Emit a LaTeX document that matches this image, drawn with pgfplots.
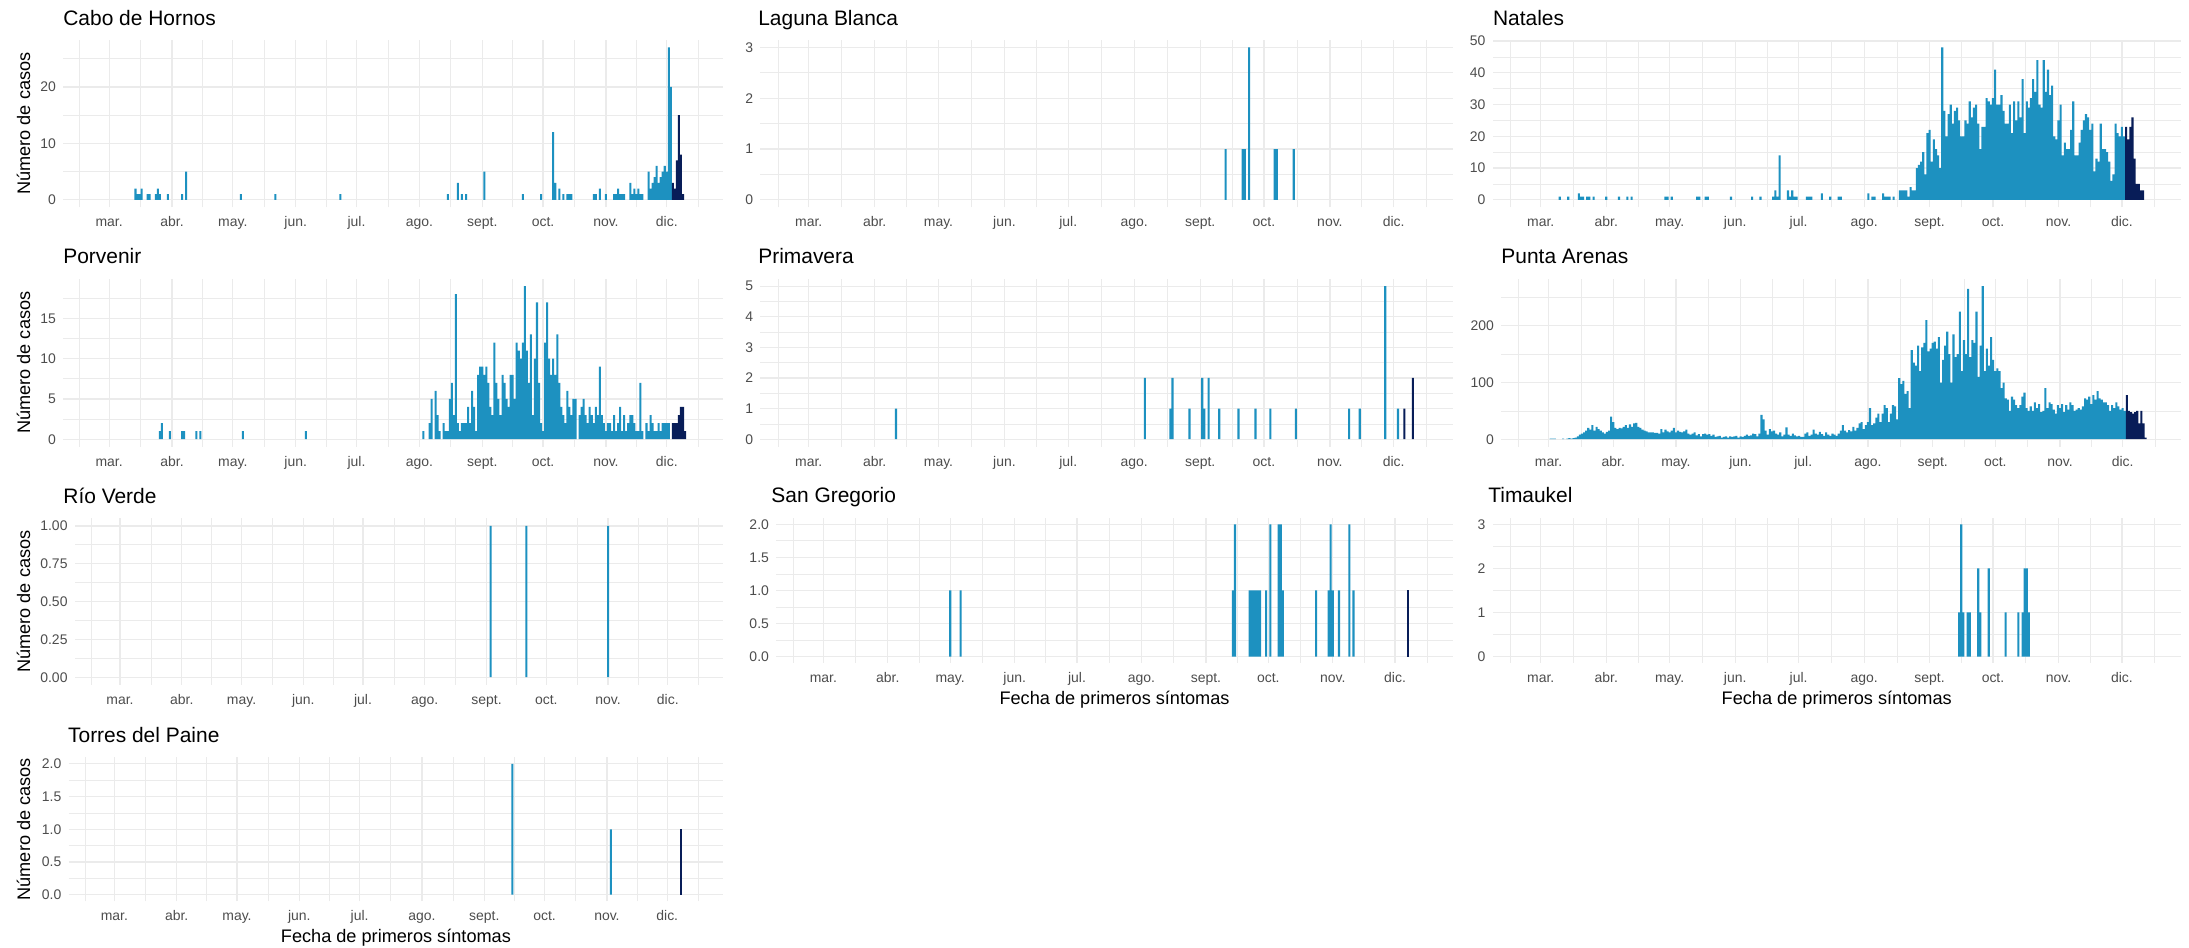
\documentclass[border=0pt]{standalone}
\usepackage{fontspec}
\setmainfont{Liberation Sans}
\usepackage{pgfplots}
\pgfplotsset{compat=1.18}

\definecolor{cblue}{HTML}{1D91C0}
\definecolor{cnavy}{HTML}{081D58}
\definecolor{gridc}{HTML}{EBEBEB}
\definecolor{tickc}{HTML}{4D4D4D}

\pgfplotsset{
  every axis title/.style={at={(rel axis cs:0,1)}, anchor=base west, yshift=10.5pt,
    inner sep=0pt, font=\fontsize{15}{18}\selectfont, text=black},
  every axis x label/.style={at={(rel axis cs:0.5,0)}, anchor=base, yshift=-29.5pt,
    font=\fontsize{13}{15}\selectfont},
  ylab/.style={ylabel={Número de casos},
    every axis y label/.style={at={(rel axis cs:0,0.5)}, xshift=#1, rotate=90,
      anchor=center, font=\fontsize{13}{15}\selectfont}},
  panel/.style={
    scale only axis, anchor=north west,
    xmin=-22.7, xmax=302.8,
    axis line style={draw=none}, tick style={draw=none},
    xtick={0,31,61,92,122,153,184,214,245,275},
    xticklabels={mar.,abr.,may.,jun.,jul.,ago.,sept.,oct.,nov.,dic.},
    minor xtick={-14.5,15.5,46,76.5,107,137.5,168.5,199,229.5,260,290.5},
    xmajorgrids, ymajorgrids, xminorgrids, yminorgrids,
    major grid style={draw=gridc, line width=0.85pt},
    minor grid style={draw=gridc, line width=0.5pt},
    tick label style={font=\fontsize{10}{12}\selectfont, text=tickc},
    xticklabel style={anchor=base, yshift=-14pt},
    yticklabel style={anchor=east, xshift=-1.7pt},
  },
  blue bars/.style={ybar, bar width=1, fill=cblue, draw=none},
  navy bars/.style={ybar, bar width=1, fill=cnavy, draw=none},
}

\begin{document}
\begin{tikzpicture}
\useasboundingbox (0,0) rectangle (1568pt,-679pt);

% Cabo de Hornos
\begin{axis}[panel, at={(45.2pt,-28.5pt)}, width=472.8pt, height=120.1pt,
  title={Cabo de Hornos}, ylab=-28.4pt,
  ymin=-1.35, ymax=28.35, ytick={0,10,20}, yticklabels={0,10,20}, minor ytick={5,15,25}]
\addplot[blue bars] coordinates {(13,2)(14,1)(15,1)(16,2)(19,1)(20,1)(23,1)(24,2)(25,1)(29,1)(36,1)(38,5)(65,1)(82,1)(114,1)(167,1)(172,3)(174,1)(176,1)(185,5)(204,1)(213,1)(219,12)(220,3)(222,2)(224,1)(226,1)(227,1)(228,1)(239,1)(240,1)(242,2)(245,1)(249,1)(250,1)(251,2)(252,1)(253,1)(254,1)(257,3)(258,1)(259,2)(260,1)(261,2)(262,1)(263,1)(266,5)(267,2)(268,3)(269,4)(270,6)(271,3)(272,4)(273,5)(274,6)(275,5)(276,27)(277,20)};
\addplot[navy bars] coordinates {(278,3)(279,2)(280,7)(281,15)(282,8)(283,1)};
\end{axis}

% Laguna Blanca
\begin{axis}[panel, at={(544.7pt,-28.5pt)}, width=496pt, height=120.1pt,
  title={Laguna Blanca}, title style={xshift=-1.7pt},
  ymin=-0.15, ymax=3.15, ytick={0,1,2,3}, yticklabels={0,1,2,3}, minor ytick={0.5,1.5,2.5}]
\addplot[blue bars] coordinates {(196,1)(204,1)(205,1)(207,3)(219,1)(220,1)(228,1)};
\end{axis}

% Natales
\begin{axis}[panel, at={(1069.3pt,-28.5pt)}, width=492.7pt, height=120.1pt,
  title={Natales},
  ymin=-2.4, ymax=50.4, ytick={0,10,20,30,40,50}, yticklabels={0,10,20,30,40,50}, minor ytick={5,15,25,35,45}]
\addplot[blue bars] coordinates {(9,1)(13,1)(18,2)(19,1)(20,1)(22,1)(23,1)(25,1)(31,1)(37,1)(41,1)(43,1)(59,1)(60,1)(62,1)(74,1)(75,1)(78,1)(79,1)(90,1)(100,1)(104,1)(110,1)(111,3)(112,1)(113,14)(117,3)(118,1)(119,3)(120,1)(121,1)(126,1)(127,1)(128,1)(133,2)(137,1)(141,1)(142,1)(155,2)(157,1)(158,1)(162,2)(163,1)(164,1)(165,1)(167,1)(170,3)(171,3)(172,3)(173,3)(174,1)(175,4)(176,3)(177,3)
(178,10)(179,11)(180,12)(181,15)(182,8)(183,21)(184,22)(185,12)(186,19)(187,16)(188,14)(189,10)(190,48)
(191,28)(192,20)(193,27)(194,30)(195,24)(196,28)(197,29)(198,25)(199,20)(200,20)(201,25)(202,24)(203,31)(204,26)(205,29)(206,30)(207,24)(208,16)(209,23)(210,23)(211,32)(212,31)(213,30)
(214,32)(215,41)(216,30)(217,30)(218,33)(219,28)(220,24)(221,24)(222,30)(223,21)(224,31)(225,25)(226,31)(227,26)(228,38)(229,21)(230,31)(231,29)(232,32)(233,38)(234,34)
(235,44)(236,30)(237,29)(238,44)(239,34)(240,41)(241,33)(242,36)(243,20)(244,19)(245,25)(246,30)(247,14)(248,18)(249,16)(250,16)(251,22)(252,31)(253,14)(254,14)(255,18)(256,22)(257,25)(258,27)(259,26)(260,22)(261,24)(262,9)(263,13)(264,12)(265,24)(266,16)(267,16)(268,15)(269,12)(270,6)(271,8)(272,24)(273,21)(274,20)(275,23)(276,20)};
\addplot[navy bars] coordinates {(277,23)(278,19)(279,23)(280,26)(281,13)(282,5)(283,5)(284,3)(285,3)};
\end{axis}

% Porvenir
\begin{axis}[panel, at={(45.2pt,-199.5pt)}, width=472.8pt, height=120.6pt,
  title={Porvenir}, ylab=-28.4pt,
  ymin=-0.95, ymax=19.95, ytick={0,5,10,15}, yticklabels={0,5,10,15}, minor ytick={2.5,7.5,12.5,17.5}]
\addplot[blue bars] coordinates {(25,1)(26,2)(30,1)(36,1)(37,1)(43,1)(45,1)(66,1)(97,1)
(155,1)(158,2)(159,5)(161,6)(162,3)(163,1)(165,2)(166,1)(167,1)(168,5)(169,7)(170,3)(171,18)(172,2)(173,1)(174,2)(175,2)(176,2)(177,4)(178,2)(179,6)(180,4)(181,1)(182,8)(183,9)(184,9)(185,8)(186,9)(187,7)(188,4)(189,3)(190,12)(191,7)(192,5)(193,3)(194,8)(195,7)(196,5)(197,4)(198,8)(199,8)(200,5)(201,12)(202,11)(203,10)(204,12)(205,19)(206,11)(207,7)(208,13)(209,3)(210,10)(211,17)(212,7)(213,2)(214,1)(215,12)(216,17)(217,10)(218,8)(219,10)(220,8)(221,13)(222,7)(223,4)(224,3)(225,2)(226,6)(227,4)(228,3)(229,5)(230,5)(232,3)(233,4)(234,5)(235,3)(236,2)(237,4)(238,3)(239,2)(240,4)(241,3)(242,9)(243,3)(244,2)(245,1)(246,2)(247,2)(248,1)(249,3)(250,1)(251,2)(252,4)(253,1)(254,3)(255,1)(256,2)(257,3)(258,3)(259,2)(260,1)(261,1)(262,7)(263,1)(265,2)(266,1)(267,3)(268,2)(269,1)(270,1)(271,2)(272,1)(273,2)(274,2)(275,2)(276,2)};
\addplot[navy bars] coordinates {(278,2)(279,2)(280,2)(281,3)(282,4)(283,4)(284,1)};
\end{axis}

% Primavera
\begin{axis}[panel, at={(544.7pt,-199.5pt)}, width=496pt, height=120.6pt,
  title={Primavera}, title style={xshift=-1.7pt},
  ymin=-0.25, ymax=5.25, ytick={0,1,2,3,4,5}, yticklabels={0,1,2,3,4,5}, minor ytick={0.5,1.5,2.5,3.5,4.5}]
\addplot[blue bars] coordinates {(41,1)(158,2)(170,1)(171,2)(179,1)(185,2)(186,1)(188,2)(193,1)(202,1)(210,1)(217,1)(229,1)(254,1)(259,1)(271,5)(277,1)};
\addplot[navy bars] coordinates {(280,1)(284,2)};
\end{axis}

% Punta Arenas
\begin{axis}[panel, at={(1075.3pt,-199.5pt)}, width=486.7pt, height=120.6pt,
  title={Punta Arenas},
  ymin=-13.5, ymax=283.5, ytick={0,100,200}, yticklabels={0,100,200}, minor ytick={50,150,250}]
\addplot[blue bars] coordinates {(1,1)(2,1)(3,1)(7,1)(9,1)(10,2)(11,1)(12,2)(13,3)(14,5)(15,8)(16,10)(17,12)(18,15)(19,20)(20,17)(21,25)(22,15)(23,22)(24,18)(25,15)(26,12)(27,10)(28,13)(29,15)(30,40)(31,30)(32,20)(33,18)(34,20)(35,19)(36,22)(37,25)(38,20)(39,26)(40,22)(41,28)(42,29)(43,22)(44,20)(45,17)(46,15)(47,14)(48,12)(49,12)(50,12)(51,11)(52,11)(53,10)(54,18)(55,12)(56,17)(57,14)(58,12)(59,15)(60,20)(61,12)(62,15)(63,13)(64,12)(65,14)(66,17)(67,10)(68,8)(69,10)(70,12)(71,7)(72,9)(73,5)(74,9)(75,10)(76,8)(77,9)(78,6)(79,8)(80,4)(81,5)(82,6)(83,3)(84,4)(85,5)(86,3)(87,5)(88,4)(89,5)(90,6)(91,3)(92,5)(93,4)(94,6)(95,8)(96,6)(97,7)(98,10)(99,9)(100,5)
(101,10)(102,43)(103,35)(104,15)(105,8)(106,18)(107,14)(108,15)(109,10)(110,8)(111,12)(112,5)(113,8)(114,21)(115,8)(116,6)(117,10)(118,7)(119,5)(120,6)(121,4)(122,4)(123,10)(124,12)(125,6)(126,8)(127,17)(128,10)(129,8)(130,13)(131,9)(132,6)(133,12)(134,8)(135,6)(136,10)(137,8)(138,6)(139,10)(140,15)(141,25)(142,15)(143,12)(144,16)(145,14)(146,22)(147,15)(148,20)(149,28)(150,30)(151,18)(152,25)(153,30)(154,55)(155,25)(156,28)(157,38)(158,45)(159,30)(160,45)(161,60)(162,55)(163,30)(164,45)(165,60)(166,58)(167,35)(168,108)(169,97)(170,103)(171,80)(172,85)(173,55)(174,157)(175,135)(176,130)(177,165)(178,120)(179,162)(180,170)(181,210)(182,155)(183,160)(184,170)(185,172)(186,160)(187,180)(188,100)(189,140)(190,165)(191,190)(192,150)(193,100)(194,185)(195,145)(196,150)(197,225)(198,120)(199,175)(200,150)
(201,265)(202,145)(203,175)(204,170)(205,225)(206,110)(207,165)(208,270)(209,120)(210,160)(211,130)(212,180)(213,140)(214,120)(215,125)(216,120)(217,90)(218,100)(219,72)(220,70)(221,50)(222,75)(223,70)(224,60)(225,55)(226,60)(227,75)(228,82)(229,55)(230,50)(231,58)(232,50)(233,65)(234,55)(235,62)(236,48)(237,50)(238,90)(239,55)(240,65)(241,62)(242,52)(243,45)(244,60)(245,55)(246,62)(247,48)(248,60)(249,52)(250,65)(251,60)(252,50)(253,52)(254,55)(255,52)(256,58)(257,72)(258,70)(259,75)(260,62)(261,78)(262,70)(263,85)(264,72)(265,70)(266,65)(267,65)(268,60)(269,50)(270,60)(271,55)(272,65)(273,58)(274,52)(275,55)(276,50)};
\addplot[navy bars] coordinates {(277,78)(278,50)(279,48)(280,45)(281,48)(282,50)(283,28)(284,50)(285,28)(286,3)};
\end{axis}

% Rio Verde
\begin{axis}[panel, at={(53.6pt,-371.3pt)}, width=464.4pt, height=119.2pt,
  title={Río Verde}, title style={xshift=-8.4pt}, ylab=-36.8pt,
  ymin=-0.05, ymax=1.05, ytick={0,0.25,0.5,0.75,1}, yticklabels={0.00,0.25,0.50,0.75,1.00}, minor ytick={0.125,0.375,0.625,0.875}]
\addplot[blue bars] coordinates {(186,1)(204,1)(245,1)};
\end{axis}

% San Gregorio
\begin{axis}[panel, at={(556pt,-370.8pt)}, width=484.7pt, height=104.2pt,
  title={San Gregorio}, title style={xshift=-3.6pt}, xlabel={Fecha de primeros síntomas},
  ymin=-0.1, ymax=2.1, ytick={0,0.5,1,1.5,2}, yticklabels={0.0,0.5,1.0,1.5,2.0}, minor ytick={0.25,0.75,1.25,1.75}]
\addplot[blue bars] coordinates {(61,1)(66,1)(197,1)(198,2)(205,1)(206,1)(207,1)(208,1)(209,1)(210,1)(213,1)(215,2)(219,2)(220,2)(221,1)(237,1)(243,1)(244,2)(245,1)(248,1)(253,2)(255,1)};
\addplot[navy bars] coordinates {(281,1)};
\end{axis}

% Timaukel
\begin{axis}[panel, at={(1069.3pt,-370.8pt)}, width=492.7pt, height=104.2pt,
  title={Timaukel}, title style={xshift=-3.4pt}, xlabel={Fecha de primeros síntomas},
  ymin=-0.15, ymax=3.15, ytick={0,1,2,3}, yticklabels={0,1,2,3}, minor ytick={0.5,1.5,2.5}]
\addplot[blue bars] coordinates {(198,1)(199,3)(200,1)(202,1)(203,1)(207,2)(208,1)(212,2)(220,1)(226,1)(228,1)(229,2)(230,2)(231,1)};
\end{axis}

% Torres del Paine
\begin{axis}[panel, at={(49.2pt,-542.4pt)}, width=468.8pt, height=103.2pt,
  title={Torres del Paine}, title style={xshift=-0.6pt}, ylab=-32.4pt,
  xlabel={Fecha de primeros síntomas},
  ymin=-0.1, ymax=2.1, ytick={0,0.5,1,1.5,2}, yticklabels={0.0,0.5,1.0,1.5,2.0}, minor ytick={0.25,0.75,1.25,1.75}]
\addplot[blue bars] coordinates {(198,2)(247,1)};
\addplot[navy bars] coordinates {(282,1)};
\end{axis}
\end{tikzpicture}
\end{document}
